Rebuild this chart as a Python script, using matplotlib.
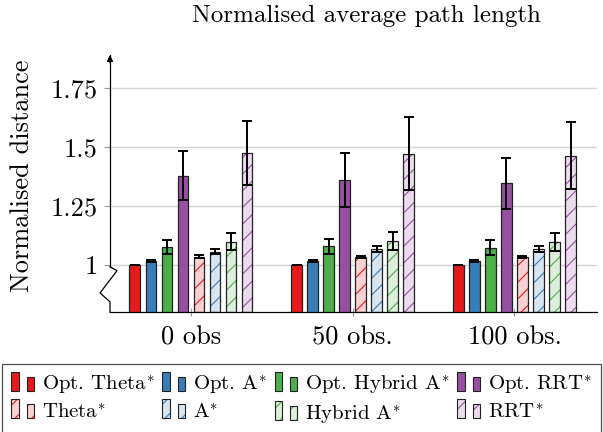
import numpy as np
import matplotlib
matplotlib.use('Agg')
import matplotlib.pyplot as plt
import matplotlib.transforms as mtransforms
from matplotlib.patches import Patch, Rectangle
from matplotlib.legend_handler import HandlerBase

plt.rcParams['font.family'] = 'cmr10'
plt.rcParams['mathtext.fontset'] = 'cm'
plt.rcParams['axes.unicode_minus'] = False
plt.rcParams['axes.formatter.use_mathtext'] = True
plt.rcParams['hatch.linewidth'] = 0.8

# data
groups = ['0 obs', '50 obs.', '100 obs.']
series = ['Opt. Theta$^{\\!*}$', 'Opt. A$^{\\!*}$', 'Opt. Hybrid A$^{\\!*}$', 'Opt. RRT$^{\\!*}$',
          'Theta$^{\\!*}$', 'A$^{\\!*}$', 'Hybrid A$^{\\!*}$', 'RRT$^{\\!*}$']
opt_theta = [1.0, 1.0, 1.0]
opt_astar = [1.018, 1.018, 1.017]
opt_hybrid = [1.077, 1.078, 1.072]
opt_rrt = [1.378, 1.360, 1.346]
theta = [1.034, 1.033, 1.033]
astar = [1.056, 1.066, 1.068]
hybrid = [1.099, 1.100, 1.096]
rrt = [1.475, 1.472, 1.463]
opt_theta_err = [0.0, 0.0, 0.0]
opt_astar_err = [0.004, 0.004, 0.004]
opt_hybrid_err = [0.030, 0.033, 0.032]
opt_rrt_err = [0.104, 0.114, 0.109]
theta_err = [0.006, 0.006, 0.006]
astar_err = [0.010, 0.012, 0.013]
hybrid_err = [0.034, 0.039, 0.039]
rrt_err = [0.136, 0.153, 0.141]

values = [opt_theta, opt_astar, opt_hybrid, opt_rrt, theta, astar, hybrid, rrt]
errors = [opt_theta_err, opt_astar_err, opt_hybrid_err, opt_rrt_err,
          theta_err, astar_err, hybrid_err, rrt_err]
base_colors = ['#e41a1c', '#377eb8', '#4daf4a', '#984ea3']


def lighten(c, f=0.2):
    rgb = np.array(matplotlib.colors.to_rgb(c))
    return tuple(f * rgb + (1 - f))


class TwoBars(HandlerBase):
    """pgfplots-like legend image: two small bars."""
    def create_artists(self, legend, orig, xdescent, ydescent, width, height,
                       fontsize, trans):
        w = width * 0.32
        arts = []
        for x0, h in [(0, height * 1.25), (width - w, height * 0.92)]:
            x0 = x0 - xdescent
            y0 = -ydescent - height * 0.02
            hatch = orig.get_hatch()
            if hatch:
                r = Rectangle((x0, y0), w, h, facecolor=orig.get_facecolor(),
                              edgecolor=orig.get_edgecolor(), hatch=hatch,
                              linewidth=0, transform=trans)
                arts.append(r)
                fc = 'none'
            else:
                fc = orig.get_facecolor()
            arts.append(Rectangle((x0, y0), w, h, facecolor=fc, edgecolor='#222222',
                                  linewidth=0.8, transform=trans))
        return arts


fig = plt.figure(figsize=(6.03, 4.32), dpi=100)
ax = fig.add_axes([110 / 603, 1 - 312 / 432, 487 / 603, 257 / 432])

ybot, ytop = 0.8, 1.89
xg = np.arange(len(groups))
width = 0.066
step = 0.099

handles = []
for i, (vals, errs) in enumerate(zip(values, errors)):
    col = base_colors[i % 4]
    hatched = i >= 4
    xs = xg + (i - 3.5) * step
    h = np.array(vals) - ybot
    if hatched:
        fc = lighten(col)
        ax.bar(xs, h, width, bottom=ybot, facecolor=fc, edgecolor=col,
               hatch='//', linewidth=0, zorder=2)
        ax.bar(xs, h, width, bottom=ybot, facecolor='none', edgecolor='#222222',
               linewidth=0.9, zorder=3)
        handles.append(Patch(facecolor=fc, edgecolor=col, hatch='//'))
    else:
        ax.bar(xs, h, width, bottom=ybot, facecolor=col, edgecolor='#222222',
               linewidth=0.9, zorder=3)
        handles.append(Patch(facecolor=col, edgecolor='#222222'))
    ax.errorbar(xs, vals, yerr=errs, fmt='none', ecolor='black', elinewidth=1.4,
                capsize=3.6, capthick=1.4, zorder=4)

ax.set_xlim(-0.5, 2.51)
ax.set_ylim(ybot, ytop)
ax.set_xticks(xg)
ax.set_xticklabels(groups, fontsize=19)
ax.set_yticks([1, 1.25, 1.5, 1.75])
ax.set_yticklabels(['1', '1.25', '1.5', '1.75'], fontsize=19)
ax.tick_params(axis='x', direction='inout', length=6, width=0.8, color='#999999', pad=7)
ax.tick_params(axis='y', direction='out', length=4, width=0.8, color='#999999', pad=5)
ax.grid(axis='y', color='#d4d4d4', linewidth=1.0, zorder=0)
ax.set_axisbelow(True)

for s in ['top', 'right']:
    ax.spines[s].set_visible(False)
ax.spines['bottom'].set_linewidth(0.9)
ax.spines['left'].set_linewidth(0.9)
ax.spines['left'].set_bounds(0.992, ytop)

# axis break zigzag and arrow on the y axis
tr = mtransforms.blended_transform_factory(ax.transAxes, ax.transData)
ax.plot([0, 0.0144, -0.0205, 0, 0], [0.992, 0.975, 0.881, 0.843, ybot],
        color='black', linewidth=0.9, transform=tr, clip_on=False, zorder=5)
ax.annotate('', xy=(0, 1.0), xytext=(0, 0.97), xycoords='axes fraction',
            arrowprops=dict(arrowstyle='-|>', color='black', lw=0.9,
                            mutation_scale=9, shrinkA=0, shrinkB=0))

fig.text(366 / 603, 1 - 16 / 432, 'Normalised average path length', fontsize=18,
         ha='center', va='center')
fig.text(22 / 603, 1 - 176 / 432, 'Normalised distance', fontsize=19,
         rotation=90, ha='center', va='center')

order = [0, 4, 1, 5, 2, 6, 3, 7]
leg = fig.legend([handles[k] for k in order], [series[k] for k in order],
                 ncol=4, loc='upper left', bbox_to_anchor=(2 / 603, 1 - 364 / 432),
                 fontsize=15, frameon=True, fancybox=False, edgecolor='#222222',
                 handler_map={Patch: TwoBars()}, handlelength=1.1, handleheight=0.75,
                 handletextpad=0.36, columnspacing=0.38, labelspacing=0.3,
                 borderpad=0.45, borderaxespad=0)
leg.get_frame().set_linewidth(0.9)

fig.savefig('out.png', dpi=100)
